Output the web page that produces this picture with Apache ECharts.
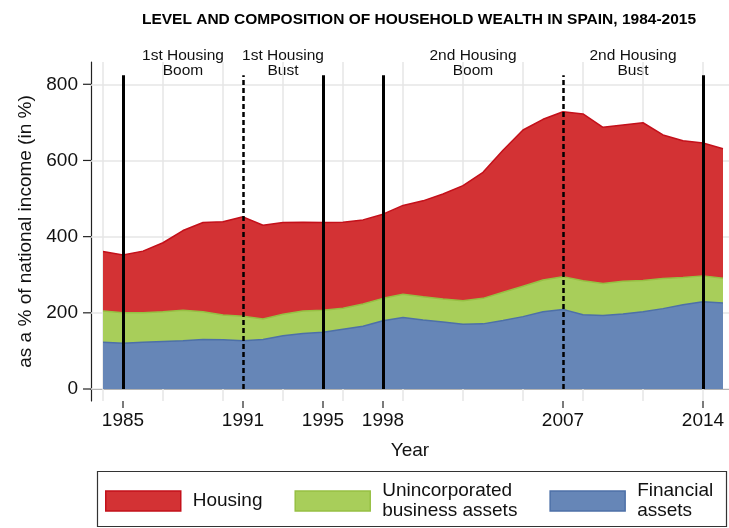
<!DOCTYPE html>
<html>
<head>
<meta charset="utf-8">
<script src="https://cdn.jsdelivr.net/npm/echarts@6/dist/echarts.min.js"></script>
<style>
html, body { margin: 0; padding: 0; background: #fff; }
#main { width: 729px; height: 528px; }
</style>
</head>
<body>
<div id="main"></div>
<script>
// years on the x axis
const years = [1984, 1985, 1986, 1987, 1988, 1989, 1990, 1991, 1992, 1993, 1994, 1995, 1996, 1997, 1998, 1999,
	2000, 2001, 2002, 2003, 2004, 2005, 2006, 2007, 2008, 2009, 2010, 2011, 2012, 2013, 2014, 2015]

// wealth components, % of national income
const financial = [123, 120, 123, 125, 127, 130, 129, 127, 130, 140, 146, 149, 157, 165, 179, 188,
	181, 176, 170, 171, 180, 190, 203, 209, 195, 193, 197, 203, 211, 221, 229, 226]
const business = [82, 80, 77, 78, 80, 73, 65, 64, 54, 56, 59, 58, 55, 58, 59, 61,
	61, 60, 62, 67, 74, 80, 83, 86, 89, 84, 86, 82, 79, 72, 68, 65]
const housing = [156, 152, 162, 181, 209, 234, 245, 261, 246, 241, 233, 230, 226, 221, 221, 233,
	252, 276, 302, 331, 373, 410, 422, 433, 438, 410, 410, 414, 377, 359, 349, 340]

// axis ticks
const yTicks = [0, 200, 400, 600, 800]
const xTickYears = [1985, 1991, 1995, 1998, 2007, 2014]
const gridYears = [1984, 1987, 1990, 1993, 1996, 1999, 2002, 2005, 2008, 2011, 2014]

// episode markers
const solidYears = [1985, 1995, 1998, 2014]
const dashedYears = [1991, 2007]
const episodes = [
	{ text: '1st Housing\nBoom', year: 1988 },
	{ text: '1st Housing\nBust', year: 1993 },
	{ text: '2nd Housing\nBoom', year: 2002.5 },
	{ text: '2nd Housing\nBust', year: 2010.5 }
]

const X_MIN = 1983.4, X_MAX = 2015.3
const Y_MIN = -31.5, Y_MAX = 858.5
const FONT = 'Liberation Sans'

// stacked tops: each layer is drawn down to 0, back to front
function stackTop(layers){
	let out = []
	for (let i = 0; i < years.length; i++){
		let s = 0
		layers.forEach(function(l){ s += l[i] })
		out.push([years[i], s])
	}
	return out
}

// light grey grid lines
let gridLines = []
gridYears.forEach(function(y){
	gridLines.push([{ coord: [y, Y_MIN] }, { coord: [y, Y_MAX] }])
})
yTicks.forEach(function(v){
	gridLines.push([{ coord: [X_MIN, v] }, { coord: [X_MAX, v] }])
})

let blackLines = []
solidYears.forEach(function(y){
	blackLines.push([{ coord: [y, 0], lineStyle: { type: 'solid', width: 3 } }, { coord: [y, 824] }])
})
dashedYears.forEach(function(y){
	blackLines.push([{ coord: [y, 0], lineStyle: { type: [5, 3], width: 2.5 } }, { coord: [y, 824] }])
})

function areaSeries(name, data, fill, edge, z){
	return {
		name: name,
		type: 'line',
		data: data,
		symbol: 'none',
		z: z,
		lineStyle: { color: edge, width: 1.5 },
		itemStyle: { color: fill, borderColor: edge },
		areaStyle: { color: fill, opacity: 1, origin: 'auto' }
	}
}

const chart = echarts.init(document.getElementById('main'))

let option = {
	animation: false,
	title: {
		text: 'LEVEL AND COMPOSITION OF HOUSEHOLD WEALTH IN SPAIN, 1984-2015',
		left: 414,
		top: 7,
		textAlign: 'center',
		textStyle: { fontFamily: FONT, fontSize: 15.5, fontWeight: 'bold', color: '#000' }
	},
	grid: { left: 91, right: 0, top: 62, bottom: 127, containLabel: false },
	xAxis: {
		type: 'value',
		min: X_MIN,
		max: X_MAX,
		name: 'Year',
		nameLocation: 'middle',
		nameGap: 40,
		nameTextStyle: { fontFamily: FONT, fontSize: 19, color: '#111' },
		axisLine: { show: true, lineStyle: { color: '#222', width: 1.2 } },
		axisTick: { show: false },
		axisLabel: {
			customValues: xTickYears, margin: 10, fontFamily: FONT, fontSize: 19, color: '#111',
			formatter: function(v){ return String(v) }
		},
		splitLine: { show: false }
	},
	yAxis: {
		type: 'value',
		min: Y_MIN,
		max: Y_MAX,
		name: 'as a % of national income (in %)',
		nameLocation: 'middle',
		nameGap: 56,
		nameTextStyle: { fontFamily: FONT, fontSize: 19, color: '#111' },
		axisLine: { show: true, lineStyle: { color: '#222', width: 1.2 } },
		axisTick: { show: false },
		axisLabel: { customValues: yTicks, margin: 13, fontFamily: FONT, fontSize: 19, color: '#111' },
		splitLine: { show: false }
	},
	legend: {
		left: 100,
		top: 476,
		itemWidth: 75,
		itemHeight: 20,
		itemGap: 32,
		icon: 'rect',
		textStyle: { fontFamily: FONT, fontSize: 19, color: '#111', lineHeight: 20, padding: [0, 0, 0, 7] },
		data: [
			{ name: 'Housing', itemStyle: { color: '#d33234', borderColor: '#c4101a', borderWidth: 1.5 } },
			{ name: 'Unincorporated\nbusiness assets', itemStyle: { color: '#a8ce5a', borderColor: '#96c043', borderWidth: 1.5 } },
			{ name: 'Financial\nassets', itemStyle: { color: '#6686b7', borderColor: '#4d70a8', borderWidth: 1.5 } }
		]
	},
	graphic: [{
		type: 'rect',
		shape: { x: 97.5, y: 471.5, width: 629, height: 55 },
		style: { fill: 'none', stroke: '#333', lineWidth: 1.2 },
		silent: true
	}],
	series: [
		{
			type: 'scatter',
			data: [],
			z: 1,
			silent: true,
			markLine: {
				z: 1,
				silent: true,
				symbol: 'none',
				label: { show: false },
				lineStyle: { color: '#e6e6e6', width: 1.5, type: 'solid' },
				data: gridLines
			}
		},
		areaSeries('Housing', stackTop([financial, business, housing]), '#d33234', '#c4101a', 3),
		areaSeries('Unincorporated\nbusiness assets', stackTop([financial, business]), '#a8ce5a', '#96c043', 4),
		areaSeries('Financial\nassets', stackTop([financial]), '#6686b7', '#4d70a8', 5),
		{
			type: 'scatter',
			data: [],
			z: 10,
			silent: true,
			markLine: {
				z: 10,
				silent: true,
				symbol: 'none',
				label: { show: false },
				lineStyle: { color: '#000' },
				data: blackLines
			}
		}
	]
}

chart.setOption(option)

// outward tick marks and episode labels, positioned through the axis scale
let extras = []
xTickYears.forEach(function(y){
	let p = chart.convertToPixel({ gridIndex: 0 }, [y, Y_MIN])
	extras.push({
		type: 'line', silent: true,
		shape: { x1: p[0], y1: p[1], x2: p[0], y2: p[1] + 7 },
		style: { stroke: '#222', lineWidth: 1.2 }
	})
})
yTicks.forEach(function(v){
	let p = chart.convertToPixel({ gridIndex: 0 }, [X_MIN, v])
	extras.push({
		type: 'line', silent: true,
		shape: { x1: p[0] - 8, y1: p[1], x2: p[0], y2: p[1] },
		style: { stroke: '#222', lineWidth: 1.2 }
	})
})
episodes.forEach(function(e){
	let p = chart.convertToPixel({ gridIndex: 0 }, [e.year, 0])
	extras.push({
		type: 'text',
		x: p[0],
		y: 63,
		silent: true,
		style: {
			text: e.text,
			fontFamily: FONT,
			fontSize: 15.5,
			lineHeight: 15,
			fill: '#111',
			align: 'center',
			verticalAlign: 'middle'
		}
	})
})
chart.setOption({ graphic: option.graphic.concat(extras) })
</script>
</body>
</html>
